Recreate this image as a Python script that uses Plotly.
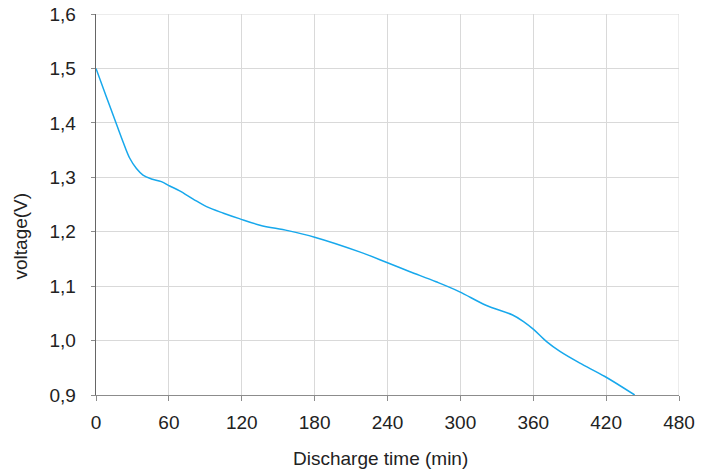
import plotly.graph_objects as go

time_min = [0, 8.5, 16.8, 22.3, 27.8, 33.3, 38.7, 45.6, 53.8, 60.7, 68.9, 80, 91, 105, 118, 135, 158, 180, 217, 240, 258, 280, 299, 321, 343, 352, 360, 371, 382, 398, 419, 443.5]
voltage = [1.5, 1.448, 1.398, 1.365, 1.335, 1.316, 1.304, 1.297, 1.292, 1.284, 1.275, 1.260, 1.246, 1.234, 1.224, 1.212, 1.202, 1.190, 1.163, 1.143, 1.127, 1.108, 1.090, 1.065, 1.047, 1.035, 1.021, 0.998, 0.980, 0.959, 0.934, 0.900]

x_ticks = [0, 60, 120, 180, 240, 300, 360, 420, 480]
y_ticks = [0.9, 1.0, 1.1, 1.2, 1.3, 1.4, 1.5, 1.6]

x_title = "Discharge time (min)"
y_title = "voltage(V)"

FONT = "Liberation Sans, Arial, sans-serif"
FS = 19
L, R, T, B = 96, 40, 14, 75
W, H = 719, 470

fig = go.Figure()
fig.add_trace(go.Scatter(
    x=time_min, y=voltage, mode="lines",
    line=dict(color="#17A8EC", width=1.5, shape="spline", smoothing=1.0),
    showlegend=False, hoverinfo="skip",
))

fig.update_layout(
    width=W, height=H,
    margin=dict(l=L, r=R, t=T, b=B, autoexpand=False),
    paper_bgcolor="white", plot_bgcolor="white",
    separators=",.",
    font=dict(family=FONT, size=FS, color="#222222"),
    xaxis=dict(
        range=[0, 480], tickvals=x_ticks, ticktext=[str(v) for v in x_ticks],
        showgrid=True, gridcolor="#d9d9d9", gridwidth=1,
        showline=True, linecolor="#8c8c8c", linewidth=1.3,
        ticks="outside", ticklen=5, tickcolor="#8c8c8c", tickwidth=1,
        ticklabelstandoff=5, automargin=False,
        zeroline=False, fixedrange=True,
        tickfont=dict(family=FONT, size=FS, color="#222222"),
    ),
    yaxis=dict(
        range=[0.9, 1.6], tickvals=y_ticks, tickformat=".1f",
        showgrid=True, gridcolor="#d9d9d9", gridwidth=1,
        showline=True, linecolor="#666666", linewidth=1.3,
        ticks="outside", ticklen=4, tickcolor="#8c8c8c", tickwidth=1,
        ticklabelstandoff=11, automargin=False,
        zeroline=False, fixedrange=True,
        tickfont=dict(family=FONT, size=FS, color="#222222"),
    ),
    annotations=[
        dict(text=x_title, xref="paper", yref="paper",
             x=(380 - L) / (W - L - R), y=-(458 - (H - B)) / (H - T - B),
             xanchor="center", yanchor="middle", showarrow=False,
             font=dict(family=FONT, size=FS, color="#222222")),
        dict(text=y_title, xref="paper", yref="paper", textangle=-90,
             x=-(L - 20) / (W - L - R), y=((H - B) - 236.5) / (H - T - B),
             xanchor="center", yanchor="middle", showarrow=False,
             font=dict(family=FONT, size=FS, color="#222222")),
    ],
)

fig.add_shape(type="line", xref="x", yref="paper", x0=480, x1=480, y0=0, y1=1,
              line=dict(color="#d9d9d9", width=1))
fig.add_shape(type="line", xref="paper", yref="y", x0=0, x1=1, y0=1.6, y1=1.6,
              line=dict(color="#d9d9d9", width=1))

fig.write_html("out.html", config={"displayModeBar": False, "staticPlot": True},
               post_script="document.body.style.margin='0';document.body.style.overflow='hidden';")
